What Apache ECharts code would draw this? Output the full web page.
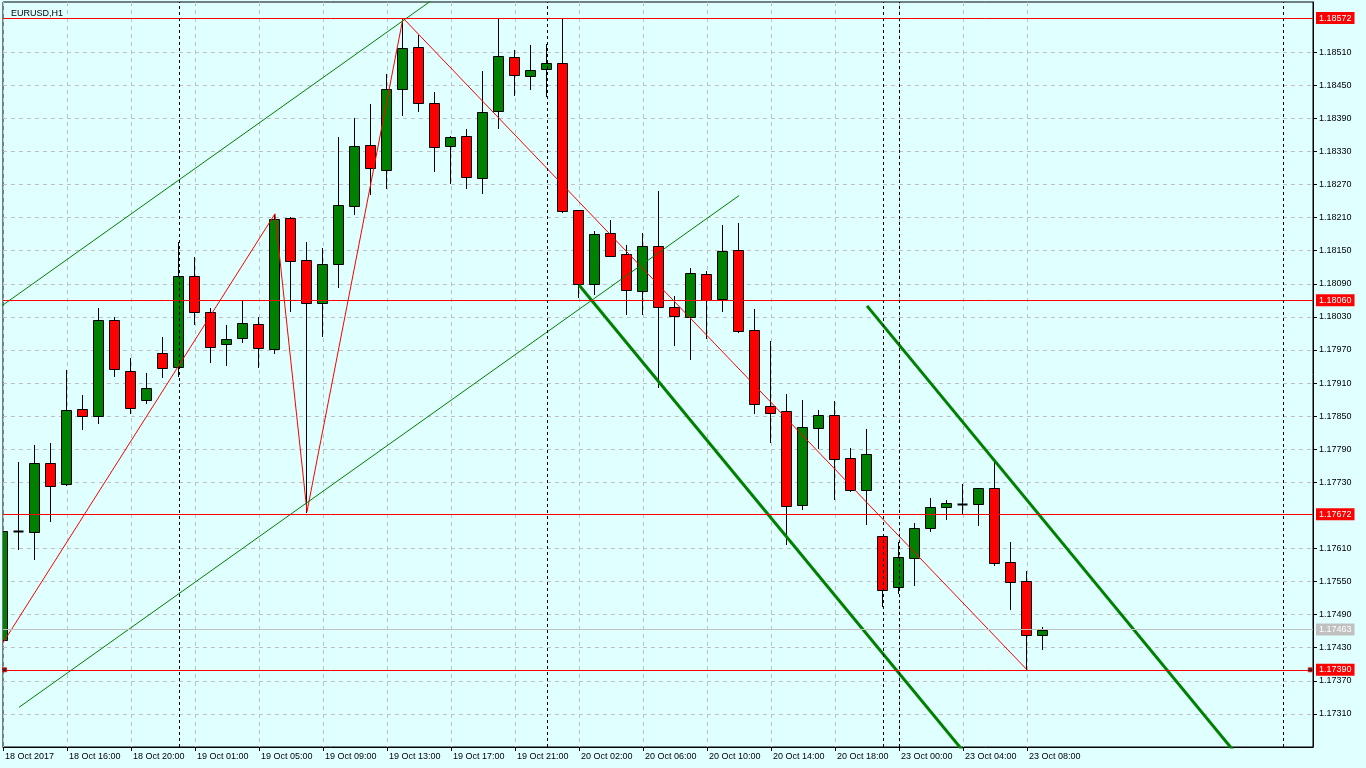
<!DOCTYPE html>
<html><head><meta charset="utf-8">
<script src="https://cdn.jsdelivr.net/npm/echarts@6/dist/echarts.min.js"></script>
<style>html,body{margin:0;padding:0;background:#E0FFFF;}#c{width:1366px;height:768px;}</style>
</head><body><div id="c"></div>
<script>
// Hourly candles, index 0 = 18 Oct 2017 12:00
const open = [1.17444,1.17641,1.17640,1.17765,1.17727,1.17863,1.17850,1.18024,1.17931,1.17879,1.17964,1.17939,1.18104,1.18039,1.17980,1.17991,1.18017,1.17971,1.18209,1.18133,1.18056,1.18126,1.18231,1.18342,1.18296,1.18443,1.18519,1.18418,1.18340,1.18358,1.18282,1.18403,1.18501,1.18467,1.18479,1.18490,1.18223,1.18089,1.18182,1.18144,1.18077,1.18158,1.18048,1.18029,1.18107,1.18062,1.18151,1.18006,1.17868,1.17859,1.17688,1.17829,1.17852,1.17774,1.17716,1.17632,1.17540,1.17592,1.17647,1.17685,1.17690,1.17690,1.17719,1.17585,1.17551,1.17453];
const close = [1.17642,1.17641,1.17765,1.17724,1.17861,1.17850,1.18024,1.17935,1.17864,1.17901,1.17937,1.18104,1.18039,1.17975,1.17990,1.18019,1.17973,1.18207,1.18131,1.18056,1.18126,1.18233,1.18340,1.18300,1.18443,1.18517,1.18418,1.18338,1.18356,1.18283,1.18401,1.18503,1.18468,1.18477,1.18490,1.18222,1.18089,1.18180,1.18141,1.18078,1.18158,1.18048,1.18031,1.18109,1.18061,1.18149,1.18004,1.17872,1.17855,1.17687,1.17830,1.17852,1.17773,1.17716,1.17781,1.17534,1.17594,1.17647,1.17685,1.17692,1.17690,1.17719,1.17584,1.17549,1.17453,1.17463];
const high = [1.17645,1.17766,1.17797,1.17801,1.17933,1.17889,1.18046,1.18030,1.17956,1.17928,1.17994,1.18166,1.18138,1.18046,1.18015,1.18060,1.18030,1.18217,1.18211,1.18166,1.18155,1.18357,1.18391,1.18416,1.18471,1.18572,1.18541,1.18438,1.18358,1.18371,1.18476,1.18571,1.18514,1.18524,1.18525,1.18570,1.18224,1.18186,1.18206,1.18160,1.18182,1.18258,1.18068,1.18119,1.18114,1.18197,1.18200,1.18044,1.17986,1.17890,1.17879,1.17861,1.17878,1.17792,1.17827,1.17633,1.17621,1.17656,1.17702,1.17698,1.17727,1.17720,1.17768,1.17622,1.17569,1.17468];
const low = [1.17439,1.17609,1.17591,1.17659,1.17725,1.17827,1.17838,1.17923,1.17855,1.17873,1.17921,1.17923,1.18018,1.17949,1.17942,1.17985,1.17940,1.17965,1.18041,1.17677,1.17996,1.18085,1.18216,1.18253,1.18263,1.18397,1.18404,1.18295,1.18272,1.18263,1.18255,1.18373,1.18433,1.18443,1.18430,1.18220,1.18066,1.18072,1.18140,1.18035,1.18036,1.17902,1.17979,1.17953,1.17992,1.18041,1.18003,1.17855,1.17804,1.17618,1.17681,1.17793,1.17700,1.17715,1.17655,1.17505,1.17529,1.17544,1.17642,1.17664,1.17673,1.17653,1.17580,1.17501,1.17390,1.17427];

const xLabelIdx = [0,4,8,12,16,20,24,28,32,36,40,44,48,52,56,60,64];
const xLabelText = ['18 Oct 2017','18 Oct 16:00','18 Oct 20:00','19 Oct 01:00','19 Oct 05:00','19 Oct 09:00','19 Oct 13:00','19 Oct 17:00','19 Oct 21:00','20 Oct 02:00','20 Oct 06:00','20 Oct 10:00','20 Oct 14:00','20 Oct 18:00','23 Oct 00:00','23 Oct 04:00','23 Oct 08:00'];
const priceTicks = [1.17310,1.17370,1.17430,1.17490,1.17550,1.17610,1.17730,1.17790,1.17850,1.17910,1.17970,1.18030,1.18090,1.18150,1.18210,1.18270,1.18330,1.18390,1.18450,1.18510];

const zzIdx = [0,17,19,25,64];
const zzPrice = [1.17439,1.18217,1.17677,1.18572,1.17390];
const chanUpIdx = [-1,28];
const chanUpPrice = [1.18031,1.18629];
const chanLoIdx = [1,46];
const chanLoPrice = [1.17322,1.18250];
const trendAIdx = [36,60];
const trendAPrice = [1.18088,1.17243];
const trendBIdx = [54,77];
const trendBPrice = [1.18050,1.17240];
const levelPrices = [1.18572,1.18060,1.17672,1.17390];
const bidPrice = 1.17463;
const separators = [11,34,55,56,80];
const anchorIdx = [0.1,81.7];

const FONT = 'Liberation Sans';
const pts = (xs, ys) => xs.map((x, i) => [x, ys[i]]);
const candleData = open.map((o, i) => [i, o, close[i], low[i], high[i]]);

function renderCandle(params, api) {
  const k = api.value(0), o = api.value(1), c = api.value(2), l = api.value(3), h = api.value(4);
  const pO = api.coord([k, o]), pC = api.coord([k, c]), pL = api.coord([k, l]), pH = api.coord([k, h]);
  const w = Math.round(api.size([1, 0])[0] * 0.625);
  const x = Math.round(pO[0]) - 0.5;
  const top = Math.round(Math.min(pO[1], pC[1])) + 0.5;
  const bot = Math.round(Math.max(pO[1], pC[1])) + 0.5;
  const up = c > o;
  return {
    type: 'group',
    children: [
      {type: 'line', shape: {x1: x, y1: Math.round(pH[1]), x2: x, y2: Math.round(pL[1]) + 1}, style: {stroke: '#000', lineWidth: 1}},
      {type: 'rect', shape: {x: x - w / 2, y: top, width: w, height: Math.max(bot - top, 0)},
       style: {fill: c === o ? '#000' : (up ? '#008000' : '#FF0000'), stroke: '#000', lineWidth: c === o ? 2 : 1}}
    ]
  };
}

const tagLabel = (bg) => ({
  show: true, position: 'end', distance: 3,
  formatter: p => Number(p.value).toFixed(5),
  backgroundColor: bg, color: '#FFFFFF', padding: [2, 3, 1, 3],
  fontFamily: FONT, fontSize: 9
});

const markData = [];
levelPrices.forEach(v => markData.push({yAxis: v, lineStyle: {color: '#FF0000', width: 1, type: 'solid'}, label: tagLabel('#FF0000')}));
markData.push({yAxis: bidPrice, lineStyle: {color: '#C0C0C0', width: 1, type: 'solid'}, label: tagLabel('#C0C0C0')});

const sepData = separators.map(v => ({xAxis: v, lineStyle: {color: '#000', width: 1, type: [3, 3]}, label: {show: false}}));

const option = {
  backgroundColor: '#E0FFFF',
  animation: false,
  title: {text: 'EURUSD,H1', left: 6, top: 4, textStyle: {fontFamily: FONT, fontSize: 9, fontWeight: 'normal', color: '#000'}},
  grid: {left: 3, right: 53, top: 2, bottom: 21, show: true, backgroundColor: '#E0FFFF', borderColor: '#000', borderWidth: 1},
  xAxis: {
    type: 'value', min: 0, max: 81.875, interval: 2,
    axisLine: {show: true, onZero: false, lineStyle: {color: '#000', width: 1}},
    axisTick: {show: true, length: 4, lineStyle: {color: '#000'}, customValues: xLabelIdx},
    axisLabel: {
      show: true, customValues: xLabelIdx,
      formatter: v => { const i = xLabelIdx.indexOf(Math.round(v)); return (i >= 0 && Math.abs(v - Math.round(v)) < 1e-6) ? xLabelText[i] : ''; },
      align: 'left', margin: 5, padding: [0, 0, 0, 2],
      fontFamily: FONT, fontSize: 9, color: '#000', hideOverlap: false
    },
    splitLine: {show: true, lineStyle: {color: '#C0C0C0', width: 1, type: [4, 4]}}
  },
  yAxis: {
    type: 'value', position: 'right', min: 1.1725, max: 1.186011, interval: 0.0006, scale: true,
    axisLine: {show: true, onZero: false, lineStyle: {color: '#000', width: 1}},
    axisTick: {show: true, length: 4, lineStyle: {color: '#000'}, customValues: priceTicks},
    axisLabel: {
      show: true, customValues: priceTicks, margin: 6,
      formatter: v => priceTicks.some(t => Math.abs(t - v) < 1e-7) ? v.toFixed(5) : '',
      fontFamily: FONT, fontSize: 9, color: '#000'
    },
    splitLine: {show: true, lineStyle: {color: '#C0C0C0', width: 1, type: [4, 4]}}
  },
  series: [
    {type: 'custom', name: 'EURUSD', renderItem: renderCandle, data: candleData, clip: true, z: 2,
     encode: {x: 0, y: [1, 2, 3, 4]}},
    {type: 'line', name: 'zigzag', data: pts(zzIdx, zzPrice), symbol: 'none', z: 4, clip: true,
     lineStyle: {color: '#FF0000', width: 1}},
    {type: 'line', name: 'chanUp', data: pts(chanUpIdx, chanUpPrice), symbol: 'none', z: 4, clip: true,
     lineStyle: {color: '#008000', width: 1}},
    {type: 'line', name: 'chanLo', data: pts(chanLoIdx, chanLoPrice), symbol: 'none', z: 4, clip: true,
     lineStyle: {color: '#008000', width: 1}},
    {type: 'line', name: 'trendA', data: pts(trendAIdx, trendAPrice), symbol: 'none', z: 4, clip: true,
     lineStyle: {color: '#008000', width: 3}},
    {type: 'line', name: 'trendB', data: pts(trendBIdx, trendBPrice), symbol: 'none', z: 4, clip: true,
     lineStyle: {color: '#008000', width: 3}},
    {type: 'scatter', name: 'anchors', data: anchorIdx.map(k => [k, levelPrices[3]]), clip: false, z: 6,
     symbol: 'rect', symbolSize: 4, itemStyle: {color: '#000', borderColor: '#FF0000', borderWidth: 1}, silent: true,
     markLine: {silent: true, symbol: ['none', 'none'], precision: 5, animation: false, data: markData.concat(sepData)}}
  ]
};
const chart = echarts.init(document.getElementById('c'), null, {renderer: 'canvas'});
chart.setOption(option);
</script></body></html>
